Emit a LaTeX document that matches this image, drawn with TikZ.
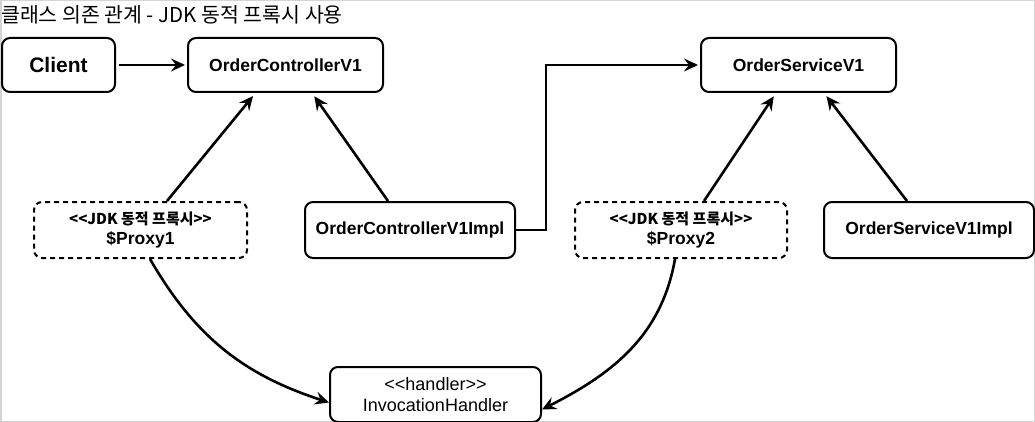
\documentclass[tikz,border=0pt]{standalone}
\usepackage{fontspec}
\setmainfont{Liberation Sans}
\newfontfamily\krfont{Noto Sans CJK KR}
\usepackage{xcolor}
\usetikzlibrary{arrows.meta}
\definecolor{framegray}{RGB}{212,212,212}
\newcommand{\stereo}[1]{{\krfont\bfseries\fontsize{15}{17}\selectfont #1}}

\begin{document}
\begin{tikzpicture}[x=1pt,y=1pt,
        box/.style={draw, line width=2pt, rounded corners=8pt, align=center, inner sep=0pt, font=\bfseries\fontsize{17.5}{20}\selectfont},
        proxybox/.style={box, dash pattern=on 5pt off 4pt},
        dep/.style={line width=2.6pt, -{Stealth[length=14pt,width=13pt,inset=5pt]}}]
            \useasboundingbox (0,0) rectangle (1035,-422);
            \draw[framegray, line width=1.5pt] (0.75,-0.75) rectangle (1034.25,-421.25);
            \node[anchor=west, inner sep=0pt] (title) at (1,-15) {\krfont\fontsize{20.5}{23}\selectfont 클래스 의존 관계 - JDK 동적 프록시 사용};

            \node[box, minimum width=113pt, minimum height=54pt, font=\bfseries\fontsize{21}{24}\selectfont] (client) at (58.5,-65) {Client};
            \node[box, minimum width=195pt, minimum height=54pt] (ocv) at (285.5,-65) {OrderControllerV1};
            \node[box, minimum width=195pt, minimum height=54pt] (osv) at (798.5,-65) {OrderServiceV1};

            \node[proxybox, minimum width=213pt, minimum height=56pt] (p1) at (140.5,-230) {\stereo{<{}<JDK 동적 프록시>{}>}\\[0pt] \$Proxy1};
            \node[box, minimum width=210pt, minimum height=56pt] (impl) at (410,-230) {OrderControllerV1Impl};
            \node[proxybox, minimum width=212pt, minimum height=56pt] (p2) at (681,-230) {\stereo{<{}<JDK 동적 프록시>{}>}\\[0pt] \$Proxy2};
            \node[box, minimum width=210pt, minimum height=56pt] (simpl) at (929,-230) {OrderServiceV1Impl};

            \node[box, minimum width=211pt, minimum height=55pt, font=\fontsize{18}{21}\selectfont] (hd) at (435.5,-394.5) {<{}<handler>{}>\\ InvocationHandler};

            \draw[dep, shorten <=3pt, shorten >=2pt] (client) -- (ocv);
            \draw[dep, shorten >=4pt] ([xshift=26.5pt]p1.north) -- ([xshift=-30pt]ocv.south);
            \draw[dep, shorten >=4pt] ([xshift=-22pt]impl.north) -- ([xshift=26.5pt]ocv.south);
            \draw[dep, shorten >=2pt] (impl.east) -- ++(30,0) |- (osv.west);
            \draw[dep, shorten >=4pt] ([xshift=23pt]p2.north) -- ([xshift=-22.5pt]osv.south);
            \draw[dep, shorten >=4pt] ([xshift=-22pt]simpl.north) -- ([xshift=25.5pt]osv.south);
            \draw[dep] ([xshift=9.5pt]p1.south) to[out=-60,in=162] ([yshift=-8pt]hd.west);
            \draw[dep] ([xshift=-6pt]p2.south) to[out=-100,in=27] ([yshift=-15pt]hd.east);
\end{tikzpicture}
\end{document}
